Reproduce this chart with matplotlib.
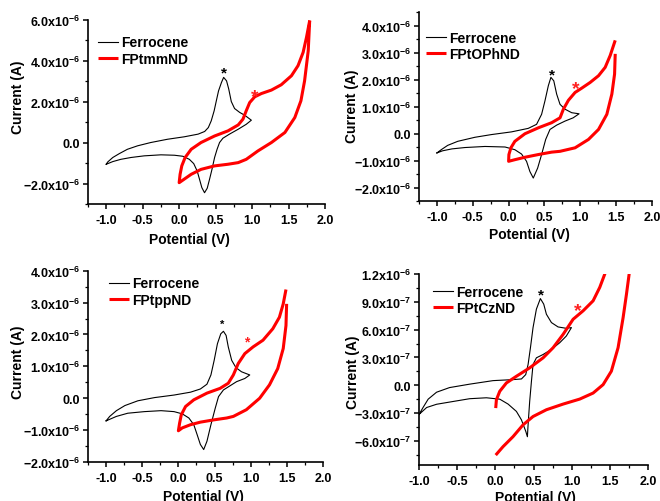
import numpy as np
import matplotlib
matplotlib.use("Agg")
import matplotlib.pyplot as plt
from matplotlib.ticker import MultipleLocator, FuncFormatter

plt.rcParams['font.family'] = ['Liberation Sans', 'DejaVu Sans']
plt.rcParams['font.weight'] = 'bold'
plt.rcParams['mathtext.fontset'] = 'custom'
plt.rcParams['mathtext.bf'] = 'Liberation Sans:bold'
plt.rcParams['mathtext.rm'] = 'Liberation Sans:bold'

# ---------------- data (potential in V, current scaled) ----------------
# Panel 1 : FPtmmND (current in 1e-6 A)
fc1_x = [-1.0, -0.98, -0.91, -0.82, -0.71, -0.57, -0.39, -0.16, 0.07, 0.26, 0.35, 0.40, 0.44, 0.48, 0.51, 0.54,
         0.58, 0.61, 0.65, 0.68, 0.715, 0.76, 0.83, 0.90, 0.99,
         0.92, 0.81, 0.69, 0.60, 0.554, 0.52, 0.486, 0.45, 0.417, 0.385, 0.348, 0.311, 0.279, 0.247, 0.20, 0.14,
         0.05, -0.065, -0.25, -0.48, -0.66, -0.80, -0.91, -1.0]
fc1_y = [-1.06, -0.95, -0.73, -0.54, -0.33, -0.16, 0.0, 0.16, 0.28, 0.41, 0.54, 0.73, 1.06, 1.55, 2.04, 2.52,
         2.93, 3.18, 3.01, 2.61, 2.0, 1.66, 1.47, 1.33, 1.09,
         0.89, 0.65, 0.41, 0.21, 0.0, -0.33, -0.73, -1.31, -1.79, -2.23, -2.45, -2.2, -1.79, -1.39, -1.03, -0.82,
         -0.67, -0.62, -0.60, -0.65, -0.73, -0.82, -0.93, -1.06]
s1_x = [1.79, 1.77, 1.72, 1.67, 1.586, 1.45, 1.265, 1.08, 0.92, 0.81, 0.67, 0.486, 0.30, 0.165, 0.0,
        0.013, 0.036, 0.082, 0.165, 0.30, 0.486, 0.67, 0.81, 0.875, 0.92, 0.967, 1.036, 1.127, 1.265, 1.40,
        1.54, 1.63, 1.70, 1.746, 1.79]
s1_y = [5.95, 4.48, 3.01, 2.04, 1.22, 0.49, 0.0, -0.41, -0.82, -0.98, -1.06, -1.14, -1.31, -1.55, -1.96,
        -1.55, -1.14, -0.73, -0.33, 0.0, 0.32, 0.57, 0.86, 1.14, 1.55, 1.95, 2.23, 2.39, 2.56, 2.82,
        3.26, 3.75, 4.40, 5.13, 5.95]

# Panel 2 : FPtOPhND (1e-6 A)
fc2_x = [-1.0, -0.94, -0.85, -0.71, -0.47, -0.24, 0.04, 0.274, 0.39, 0.46, 0.507, 0.554, 0.59, 0.63, 0.67,
         0.717, 0.787, 0.88, 0.983,
         0.90, 0.787, 0.67, 0.577, 0.517, 0.46, 0.405, 0.344, 0.297, 0.25, 0.18, 0.087, -0.05, -0.33, -0.61,
         -0.79, -0.92, -1.0]
fc2_y = [-0.72, -0.60, -0.44, -0.29, -0.14, -0.04, 0.06, 0.19, 0.34, 0.71, 1.21, 1.77, 2.08, 1.95, 1.46,
         1.08, 0.90, 0.77, 0.73,
         0.58, 0.46, 0.31, 0.15, -0.22, -0.78, -1.28, -1.65, -1.41, -1.03, -0.76, -0.60, -0.50, -0.48, -0.52,
         -0.57, -0.64, -0.72]
s2_x = [1.487, 1.478, 1.44, 1.37, 1.254, 1.114, 0.927, 0.717, 0.60, 0.414, 0.227, 0.087, 0.0,
        0.004, 0.032, 0.087, 0.227, 0.414, 0.60, 0.717, 0.764, 0.834, 0.927, 1.02, 1.137, 1.254, 1.347,
        1.417, 1.487]
s2_y = [2.95, 2.20, 1.46, 0.71, 0.15, -0.22, -0.53, -0.66, -0.69, -0.78, -0.88, -0.97, -1.03,
        -0.78, -0.53, -0.29, -0.01, 0.21, 0.40, 0.58, 0.90, 1.23, 1.52, 1.68, 1.89, 2.14, 2.45,
        2.89, 3.45]

# Panel 3 : FPtppND (1e-6 A)
fc3_x = [-1.0, -0.95, -0.857, -0.74, -0.56, -0.33, -0.06, 0.168, 0.304, 0.395, 0.45, 0.495, 0.54, 0.586,
         0.623, 0.66, 0.69, 0.737, 0.796, 0.873, 0.987,
         0.919, 0.805, 0.714, 0.623, 0.555, 0.51, 0.45, 0.395, 0.35, 0.304, 0.259, 0.213, 0.145, 0.054,
         -0.06, -0.24, -0.47, -0.70, -0.857, -1.0]
fc3_y = [-0.71, -0.57, -0.39, -0.23, -0.08, 0.02, 0.10, 0.19, 0.29, 0.44, 0.73, 1.19, 1.71, 2.02,
         2.10, 1.97, 1.61, 1.19, 0.96, 0.83, 0.73,
         0.62, 0.52, 0.39, 0.26, 0.05, -0.31, -0.83, -1.35, -1.61, -1.45, -1.14, -0.83, -0.62, -0.49,
         -0.42, -0.39, -0.42, -0.47, -0.57, -0.71]
s3_x = [1.497, 1.488, 1.45, 1.374, 1.26, 1.124, 0.94, 0.76, 0.668, 0.486, 0.304, 0.168, 0.054, 0.0,
        0.017, 0.04, 0.099, 0.213, 0.395, 0.577, 0.69, 0.76, 0.828, 0.919, 1.033, 1.17, 1.306, 1.397,
        1.45, 1.488]
s3_y = [2.96, 2.28, 1.56, 0.93, 0.42, 0.0, -0.36, -0.57, -0.62, -0.68, -0.75, -0.83, -0.93, -1.02,
        -0.78, -0.52, -0.26, -0.05, 0.16, 0.31, 0.47, 0.73, 1.09, 1.40, 1.61, 1.82, 2.18, 2.54,
        2.96, 3.41]

# Panel 4 : FPtCzND (1e-7 A)
fc4_x = [-1.0, -0.947, -0.88, -0.77, -0.60, -0.336, -0.03, 0.232, 0.342, 0.398, 0.429, 0.46, 0.494, 0.538,
         0.59, 0.634, 0.669, 0.735, 0.822, 0.93, 0.997,
         0.93, 0.844, 0.735, 0.626, 0.538, 0.494, 0.473, 0.45, 0.429, 0.42, 0.40, 0.342, 0.276, 0.167, 0.058,
         -0.117, -0.336, -0.554, -0.77, -0.90, -1.0]
fc4_y = [-3.15, -2.40, -1.50, -0.75, -0.25, 0.12, 0.50, 0.61, 0.68, 1.15, 2.24, 4.05, 6.22, 8.21,
         9.35, 8.75, 7.66, 6.76, 6.29, 6.14, 6.22,
         5.31, 4.59, 3.87, 3.32, 2.96, 2.24, 0.43, -1.74, -4.27, -5.55, -5.0, -3.73, -2.82, -2.03, -1.50,
         -1.35, -1.45, -1.75, -2.05, -2.40, -3.15]
s4a_x = [0.005, 0.014, 0.058, 0.145, 0.276, 0.45, 0.626, 0.757, 0.888, 1.019, 1.15, 1.281, 1.368, 1.434, 1.48]
s4a_y = [-2.46, -1.56, -0.65, 0.25, 0.97, 1.88, 2.96, 4.05, 5.49, 7.12, 8.03, 9.11, 10.56, 12.0, 13.0]
s4b_x = [0.005, 0.101, 0.232, 0.363, 0.494, 0.669, 0.888, 1.106, 1.281, 1.412, 1.52, 1.608, 1.674, 1.718,
         1.753, 1.765]
s4b_y = [-7.53, -6.62, -5.54, -4.27, -3.37, -2.64, -2.03, -1.49, -0.84, 0.07, 1.52, 4.05, 7.30, 9.83,
         12.0, 13.0]

names = ['FPtmmND', 'FPtOPhND', 'FPtppND', 'FPtCzND']
scales = [1e-6, 1e-6, 1e-6, 1e-7]
star_black = [(0.614, 3.62), (0.60, 2.36), (0.61, 2.42), (0.60, 10.3)]
star_red = [(1.035, 2.52), (0.94, 1.89), (0.95, 1.90), (1.08, 8.67)]
star_size = [11, 11, 8, 11]

# ---------------- layout ----------------
W, H = 660, 502
def rect(l, r, t, b):
    return [l / W, 1 - b / H, (r - l) / W, (b - t) / H]

rects = [rect(88, 325, 20.6, 205), rect(419, 652, 13, 202),
         rect(88, 323, 271.7, 463), rect(419, 648, 275, 466)]
xlims = [(-1.25, 2.0), (-1.25, 2.0), (-1.25, 2.0), (-1.0, 2.0)]
ylims = [(-3.0e-6, 6.0e-6), (-2.5e-6, 4.5e-6), (-2.0e-6, 4.0e-6), (-8.6e-7, 1.2e-6)]
ymajor = [2e-6, 1e-6, 1e-6, 3e-7]
leg_anchor = [(0.042, 0.914), (0.03, 0.902), (0.09, 0.970), (0.061, 0.945)]
ylab_pos = [(-0.295, 0.587), (-0.289, 0.504), (-0.297, 0.525), (-0.287, 0.49)]
xlab_pos = [(0.426, -0.19), (0.476, -0.175), (0.49, -0.176), (0.507, -0.168)]

fc_data = [(fc1_x, fc1_y), (fc2_x, fc2_y), (fc3_x, fc3_y), (fc4_x, fc4_y)]
s_data = [[(s1_x, s1_y)], [(s2_x, s2_y)], [(s3_x, s3_y)], [(s4a_x, s4a_y), (s4b_x, s4b_y)]]

def yfmt(v, pos):
    if abs(v) < 1e-15:
        return '0.0'
    e = int(np.floor(np.log10(abs(v)) + 1e-9))
    m = v / 10.0 ** e
    return r'$\mathbf{%.1fx10^{%d}}$' % (m, e)

fig = plt.figure(figsize=(6.6, 5.02), dpi=100)
for i in range(4):
    ax = fig.add_axes(rects[i])
    sc = scales[i]
    fx, fy = fc_data[i]
    ax.plot(fx, np.array(fy) * sc, color='black', lw=0.8, label='Ferrocene', solid_joinstyle='round')
    for j, (sx, sy) in enumerate(s_data[i]):
        ax.plot(sx, np.array(sy) * sc, color='#ff0000', lw=2.2, solid_joinstyle='round',
                label=names[i] if j == 0 else None, solid_capstyle='butt')
    bx, by = star_black[i]
    rx, ry = star_red[i]
    fs = star_size[i]
    ax.annotate('*', (bx, by * sc), xytext=(0, -0.55 * fs), textcoords='offset points',
                ha='center', va='baseline', fontsize=fs, color='black')
    rfs = fs * 1.25
    ax.annotate('*', (rx, ry * sc), xytext=(0, -0.55 * rfs), textcoords='offset points',
                ha='center', va='baseline', fontsize=rfs, color='#ff2020')
    ax.set_xlim(*xlims[i])
    ax.set_ylim(*ylims[i])
    ax.xaxis.set_major_locator(MultipleLocator(0.5))
    ax.xaxis.set_minor_locator(MultipleLocator(0.25))
    ax.yaxis.set_major_locator(MultipleLocator(ymajor[i]))
    ax.yaxis.set_minor_locator(MultipleLocator(ymajor[i] / 2))
    ax.yaxis.set_major_formatter(FuncFormatter(yfmt))
    ax.xaxis.set_major_formatter(FuncFormatter(lambda v, p: '%.1f' % v))
    for s in ['top', 'right']:
        ax.spines[s].set_visible(False)
    for s in ['left', 'bottom']:
        ax.spines[s].set_linewidth(1.2)
    ax.tick_params(which='major', direction='out', length=3.5, width=1.1, labelsize=9, pad=2)
    ax.tick_params(which='minor', direction='out', length=2, width=0.9)
    ax.tick_params(axis='x', which='major', pad=4)
    for lab in ax.get_xticklabels():
        lab.set_fontweight('bold')
    ax.set_ylabel('Current (A)', fontsize=10, fontweight='bold')
    ax.set_xlabel('Potential (V)', fontsize=10, fontweight='bold')
    ax.yaxis.set_label_coords(*ylab_pos[i])
    ax.xaxis.set_label_coords(*xlab_pos[i])
    ax.xaxis.label.set_va('center')
    ax.yaxis.label.set_va('center')
    ax.legend(loc='upper left', bbox_to_anchor=leg_anchor[i], frameon=False,
              borderpad=0, borderaxespad=0, handlelength=1.43,
              handletextpad=0.25, labelspacing=0.15,
              prop={'weight': 'bold', 'size': 10})

fig.savefig('out.png', dpi=100)
